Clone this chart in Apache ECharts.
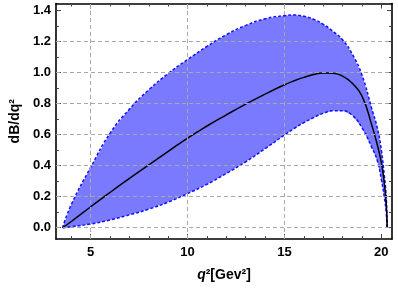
<!DOCTYPE html>
<html>
<head>
<meta charset="utf-8">
<script src="https://cdn.jsdelivr.net/npm/echarts@6/dist/echarts.min.js"></script>
<style>html,body{margin:0;padding:0;background:#fff}#c{width:398px;height:289px}</style>
</head>
<body>
<div id="c"></div>
<script>
// q^2 sample positions (GeV^2)
const q2 = [3.55, 4, 5, 6, 7, 8, 9, 10, 11, 12, 13, 14, 15, 15.5, 16, 16.5, 17, 17.5, 18, 18.5, 19, 19.5, 19.8, 20, 20.15, 20.25, 20.3];
// central value
const central = [0, 0.04, 0.135, 0.228, 0.318, 0.405, 0.492, 0.578, 0.656, 0.728, 0.797, 0.862, 0.922, 0.948, 0.97, 0.988, 0.998, 0.997, 0.978, 0.932, 0.85, 0.665, 0.53, 0.42, 0.29, 0.16, 0];
// upper band edge
const upper = [0, 0.15, 0.39, 0.61, 0.765, 0.89, 0.995, 1.085, 1.17, 1.245, 1.305, 1.348, 1.368, 1.372, 1.364, 1.345, 1.312, 1.268, 1.212, 1.12, 0.985, 0.77, 0.64, 0.50, 0.34, 0.2, 0];
// lower band edge
const lower = [0, 0.006, 0.024, 0.05, 0.083, 0.12, 0.165, 0.22, 0.28, 0.35, 0.425, 0.51, 0.598, 0.64, 0.678, 0.71, 0.738, 0.754, 0.755, 0.725, 0.645, 0.52, 0.43, 0.31, 0.2, 0.1, 0];

const xMajor = [5, 10, 15, 20];
const xMinor = [4, 6, 7, 8, 9, 11, 12, 13, 14, 16, 17, 18, 19];
const yMajor = [0, 0.2, 0.4, 0.6, 0.8, 1.0, 1.2, 1.4];
const yMinor = [0.1, 0.3, 0.5, 0.7, 0.9, 1.1, 1.3];
const xGrid = [5, 10, 15];
const yGrid = [0, 0.2, 0.4, 0.6, 0.8, 1.0, 1.2];

const XMIN = 3.206, XMAX = 20.55, YMIN = -0.073, YMAX = 1.4465;
const FONT = 'Liberation Sans';

function xAx(pos, vals, len, showLine, showLabel, extra) {
  return Object.assign({
    type: 'value', min: XMIN, max: XMAX, position: pos,
    axisLine: { show: showLine, onZero: false, lineStyle: { color: '#000', width: 1.6 } },
    axisTick: { show: true, inside: true, length: len, customValues: vals, lineStyle: { color: '#444', width: 1 } },
    axisLabel: { show: showLabel, customValues: vals, margin: 7, color: '#000', fontFamily: FONT, fontWeight: 'bold', fontSize: 13 },
    splitLine: { show: false }
  }, extra || {});
}
function yAx(pos, vals, len, showLine, showLabel, extra) {
  return Object.assign({
    type: 'value', min: YMIN, max: YMAX, position: pos,
    axisLine: { show: showLine, onZero: false, lineStyle: { color: '#000', width: 1.6 } },
    axisTick: { show: true, inside: true, length: len, customValues: vals, lineStyle: { color: '#444', width: 1 } },
    axisLabel: { show: showLabel, customValues: vals, margin: 5, color: '#000', fontFamily: FONT, fontWeight: 'bold', fontSize: 13,
      formatter: v => v.toFixed(1) },
    splitLine: { show: false }
  }, extra || {});
}

const chart = echarts.init(document.getElementById('c'), null, { renderer: 'canvas' });
const pairs = arr => q2.map((x, i) => [x, arr[i]]);

const gridLines = [];
xGrid.forEach(v => gridLines.push({ xAxis: v }));
yGrid.forEach(v => gridLines.push({ yAxis: v }));

const SM = 0.5;

chart.setOption({
  animation: false,
  backgroundColor: '#fff',
  grid: { left: 47, right: 6, top: 3.5, bottom: 50 },
  xAxis: [
    xAx('bottom', xMajor, 5, true, true, {
      name: '{i|q}²[Gev²]', nameLocation: 'middle', nameGap: 29,
      nameTextStyle: { fontFamily: FONT, fontWeight: 'bold', fontSize: 14, color: '#000',
        rich: { i: { fontStyle: 'italic', fontWeight: 'bold', fontFamily: FONT, fontSize: 14, color: '#000' } } }
    }),
    xAx('bottom', xMinor, 3, false, false),
    xAx('top', xMajor, 5, true, false),
    xAx('top', xMinor, 3, false, false)
  ],
  yAxis: [
    yAx('left', yMajor, 5, true, true, {
      name: 'dB/dq²', nameLocation: 'middle', nameGap: 30, nameRotate: 90,
      nameTextStyle: { fontFamily: FONT, fontWeight: 'bold', fontSize: 14, color: '#000' }
    }),
    yAx('left', yMinor, 3, false, false),
    yAx('right', yMajor, 5, true, false),
    yAx('right', yMinor, 3, false, false)
  ],
  series: [
    {
      type: 'line', data: [], z: 1, silent: true,
      markLine: {
        silent: true, symbol: 'none', label: { show: false },
        lineStyle: { color: '#a8a8a8', type: [4, 3], width: 1 },
        data: gridLines
      }
    },
    {
      name: 'bandFill', type: 'custom', z: 2, silent: true,
      data: [0],
      renderItem: function (params, api) {
        const pts = [];
        for (let i = 0; i < q2.length; i++) pts.push(api.coord([q2[i], upper[i]]));
        for (let i = q2.length - 1; i >= 0; i--) pts.push(api.coord([q2[i], lower[i]]));
        return {
          type: 'polygon',
          shape: { points: pts, smooth: 0 },
          style: { fill: 'rgba(0,0,255,0.52)', stroke: 'none' }
        };
      }
    },
    {
      name: 'upper', type: 'line', data: pairs(upper), smooth: SM,
      showSymbol: false, z: 3,
      lineStyle: { color: '#1010ff', width: 1.5, type: [3, 2] }
    },
    {
      name: 'lower', type: 'line', data: pairs(lower), smooth: SM,
      showSymbol: false, z: 3,
      lineStyle: { color: '#1010ff', width: 1.5, type: [3, 2] }
    },
    {
      name: 'central', type: 'line', data: pairs(central), smooth: SM,
      showSymbol: false, z: 4,
      lineStyle: { color: '#000', width: 1.5 }
    }
  ]
});
</script>
</body>
</html>
